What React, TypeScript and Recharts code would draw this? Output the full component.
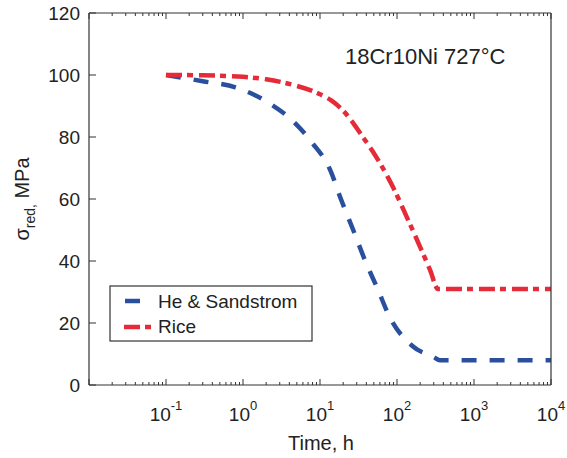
import React from 'react';
import { LineChart, Line, XAxis, YAxis } from 'recharts';

// time axis (h), log scale
const timeMajor = [0.01, 0.1, 1, 10, 100, 1000, 10000];
const stressTicks = [0, 20, 40, 60, 80, 100, 120];

// reduced stress (MPa) vs time (h)
const heSandstromT = [0.1, 0.3, 0.8, 2, 4.5, 8, 13.5, 19, 27, 38, 56, 80, 160, 300, 360, 1000, 10000];
const heSandstromV = [100, 98, 96, 91.5, 85, 78, 69.5, 59.5, 50, 40.5, 31, 22, 12.5, 9, 8, 8, 8];

const riceT = [0.1, 0.3, 1, 2, 4.5, 9, 14, 20, 27, 36, 48, 88, 135, 200, 270, 340, 1000, 10000];
const riceV = [100, 99.9, 99.4, 98.6, 96.8, 94.3, 91.8, 88.5, 84.5, 80, 75.5, 64, 54, 44.5, 37, 31, 31, 31];

const heData = heSandstromT.map((t, i) => ({ t, v: heSandstromV[i] }));
const riceData = riceT.map((t, i) => ({ t, v: riceV[i] }));

const timeTicks = timeMajor.flatMap((d, i) =>
  i === timeMajor.length - 1 ? [d] : [1, 2, 3, 4, 5, 6, 7, 8, 9].map((m) => +(m * d).toPrecision(3))
);

const FONT = '"Liberation Sans", Arial, Helvetica, sans-serif';
const AXIS = '#333';
const BLUE = '#2b4f9f';
const RED = '#e52b38';
const BLUE_DASH = '15 13';
const RED_DASH = '16 5 6 6';

const isMajor = (v: number) => Math.abs(Math.log10(v) - Math.round(Math.log10(v))) < 1e-6;

function BottomTick({ x, y, payload }: any) {
  const v = payload.value;
  const major = isMajor(v);
  const e = Math.round(Math.log10(v));
  return (
    <g>
      <line x1={x} x2={x} y1={y} y2={y - (major ? 6 : 3)} stroke={AXIS} />
      {major && v >= 0.1 && v <= 10000 && (
        <text x={x} y={y + 36} textAnchor="middle" fontSize={19} fontFamily={FONT} fill="#222">
          10
          <tspan dy={-11} fontSize={13}>{e}</tspan>
        </text>
      )}
    </g>
  );
}

function TopTick({ x, y, payload }: any) {
  const major = isMajor(payload.value);
  return <line x1={x} x2={x} y1={y} y2={y + (major ? 6 : 3)} stroke={AXIS} />;
}

function LeftTick({ x, y, payload }: any) {
  return (
    <g>
      <line x1={x} x2={x + 7} y1={y} y2={y} stroke={AXIS} />
      <text x={x - 9} y={y + 7} textAnchor="end" fontSize={19} fontFamily={FONT} fill="#222">
        {payload.value}
      </text>
    </g>
  );
}

function RightTick({ x, y }: any) {
  return <line x1={x} x2={x - 7} y1={y} y2={y} stroke={AXIS} />;
}

export default function App() {
  return (
    <div style={{ position: 'absolute', left: 0, top: 0, width: 567, height: 458, background: '#fff' }}>
      <LineChart width={567} height={458} margin={{ top: 12, right: 15, left: 0, bottom: 0 }}>
        <XAxis
          dataKey="t"
          type="number"
          scale="log"
          domain={[0.01, 10000]}
          ticks={timeTicks}
          interval={0}
          allowDataOverflow
          height={73}
          tickSize={0}
          tickMargin={0}
          tickLine={false}
          tick={<BottomTick />}
          axisLine={{ stroke: AXIS, strokeWidth: 1.2 }}
        />
        <XAxis
          xAxisId="top"
          orientation="top"
          dataKey="t"
          type="number"
          scale="log"
          domain={[0.01, 10000]}
          ticks={timeTicks}
          interval={0}
          allowDataOverflow
          height={1}
          tickSize={0}
          tickMargin={0}
          tickLine={false}
          tick={<TopTick />}
          axisLine={{ stroke: AXIS, strokeWidth: 1.2 }}
        />
        <YAxis
          type="number"
          domain={[0, 120]}
          ticks={stressTicks}
          interval={0}
          width={89}
          tickSize={0}
          tickMargin={0}
          tickLine={false}
          tick={<LeftTick />}
          axisLine={{ stroke: AXIS, strokeWidth: 1.2 }}
        />
        <YAxis
          yAxisId="right"
          orientation="right"
          type="number"
          domain={[0, 120]}
          ticks={stressTicks}
          interval={0}
          width={1}
          tickSize={0}
          tickMargin={0}
          tickLine={false}
          tick={<RightTick />}
          axisLine={{ stroke: AXIS, strokeWidth: 1.2 }}
        />
        <Line
          data={heData}
          dataKey="v"
          type="monotone"
          stroke={BLUE}
          strokeWidth={4.5}
          strokeDasharray={BLUE_DASH}
          dot={false}
          isAnimationActive={false}
        />
        <Line
          data={riceData}
          dataKey="v"
          type="monotone"
          stroke={RED}
          strokeWidth={4.5}
          strokeDasharray={RED_DASH}
          dot={false}
          isAnimationActive={false}
        />
      </LineChart>
      <svg
        width={567}
        height={458}
        style={{ position: 'absolute', left: 0, top: 0, pointerEvents: 'none' }}
        fontFamily={FONT}
        fill="#222"
      >
        <text x={345} y={64} fontSize={22}>18Cr10Ni 727°C</text>
        <text x={321} y={450} fontSize={20} textAnchor="middle">Time, h</text>
        <text transform="translate(29,199) rotate(-90)" fontSize={20} textAnchor="middle">
          σ
          <tspan dy={6} fontSize={14}>red,</tspan>
          <tspan dy={-6}> MPa</tspan>
        </text>
        <rect x={110} y={286} width={202} height={55} fill="#fff" stroke={AXIS} strokeWidth={1.2} />
        <line x1={125} x2={140} y1={301} y2={301} stroke={BLUE} strokeWidth={4.5} />
        <text x={158} y={308} fontSize={19}>He &amp; Sandstrom</text>
        <line x1={124} x2={152} y1={327} y2={327} stroke={RED} strokeWidth={4.5} strokeDasharray={RED_DASH} />
        <text x={158} y={333} fontSize={19}>Rice</text>
      </svg>
    </div>
  );
}
